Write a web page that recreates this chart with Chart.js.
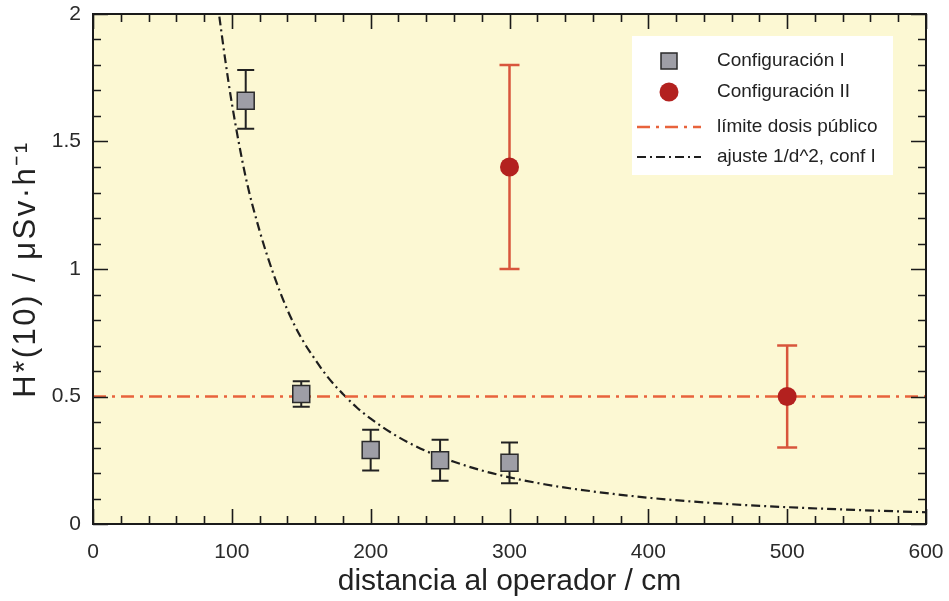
<!DOCTYPE html>
<html>
<head>
<meta charset="utf-8">
<script src="https://cdn.jsdelivr.net/npm/chart.js@4"></script>
<style>
html,body{margin:0;padding:0;background:#fff;}
#c{display:block;}
</style>
</head>
<body>
<canvas id="c" width="949" height="601"></canvas>
<script>
// ---- data ----
const DIST_I = [110, 150, 200, 250, 300];
const H_I    = [1.66, 0.51, 0.29, 0.25, 0.24];
const LO_I   = [1.55, 0.46, 0.21, 0.17, 0.16];
const HI_I   = [1.78, 0.56, 0.37, 0.33, 0.32];

const DIST_II = [300, 500];
const H_II    = [1.40, 0.50];
const LO_II   = [1.00, 0.30];
const HI_II   = [1.80, 0.70];

const LIMIT_X = [0, 600];
const LIMIT_Y = [0.5, 0.5];

const FIT_X = [91, 95, 100, 110, 120, 130, 140, 150, 160, 170, 180, 190, 200, 220, 240, 260, 280, 300, 325, 350, 400, 450, 500, 550, 600];
const FIT_Y = [1.99, 1.83, 1.65, 1.36, 1.15, 0.98, 0.84, 0.73, 0.645, 0.57, 0.51, 0.457, 0.413, 0.341, 0.286, 0.244, 0.21, 0.183, 0.156, 0.135, 0.103, 0.081, 0.066, 0.055, 0.046];

const X_TICKS = [0, 100, 200, 300, 400, 500, 600];
const Y_TICKS = [0, 0.5, 1, 1.5, 2];
const X_MINOR = 20;
const Y_MINOR = 0.1;

const LABELS = ['Configuración I', 'Configuración II', 'límite dosis público', 'ajuste 1/d^2, conf I'];
const X_TITLE = 'distancia al operador / cm';
const Y_TITLE = 'H*(10) / μSv·h⁻¹';

const FONT = "'Liberation Sans', Arial, Helvetica, sans-serif";
const COL_SQ = '#9e9ea6';
const COL_SQ_EDGE = '#2a2a2a';
const COL_C2 = '#b3211f';
const COL_C2_ERR = '#d8553c';
const COL_LIMIT = '#e8633c';
const COL_FIT = '#1e1e1e';
const BG_PLOT = '#fcf8d3';

const pts = (xs, ys) => xs.map((x, i) => ({x: x, y: ys[i]}));
const noPad = s => { s.paddingTop = 0; s.paddingBottom = 0; s.paddingLeft = 0; s.paddingRight = 0; };

const framePlugin = {
  id: 'frame',
  beforeDraw(chart) {
    const {ctx, chartArea: a} = chart;
    ctx.save();
    ctx.fillStyle = BG_PLOT;
    ctx.fillRect(a.left, a.top, a.right - a.left, a.bottom - a.top);
    ctx.restore();
  },
  beforeDatasetsDraw(chart) {
    const {ctx, scales: {x, y}} = chart;
    ctx.save();
    const bars = (xs, lo, hi, color, w, cap) => {
      ctx.strokeStyle = color;
      ctx.lineWidth = w;
      xs.forEach((d, i) => {
        const px = x.getPixelForValue(d);
        const y1 = y.getPixelForValue(lo[i]);
        const y2 = y.getPixelForValue(hi[i]);
        ctx.beginPath();
        ctx.moveTo(px, y1); ctx.lineTo(px, y2);
        ctx.moveTo(px - cap, y1); ctx.lineTo(px + cap, y1);
        ctx.moveTo(px - cap, y2); ctx.lineTo(px + cap, y2);
        ctx.stroke();
      });
    };
    bars(DIST_I, LO_I, HI_I, '#222', 2, 8.5);
    bars(DIST_II, LO_II, HI_II, COL_C2_ERR, 2.5, 10);
    ctx.restore();
  },
  afterDraw(chart) {
    const {ctx, chartArea: a, scales: {x, y}} = chart;
    ctx.save();
    // ticks on all four sides, pointing inward
    ctx.strokeStyle = '#1a1a1a';
    ctx.lineWidth = 1.6;
    ctx.beginPath();
    for (let v = x.min; v <= x.max + 1e-9; v += X_MINOR) {
      const major = Math.abs(v / 100 - Math.round(v / 100)) < 1e-6;
      const len = major ? 15 : 8;
      const px = Math.round(x.getPixelForValue(v)) + 0.5;
      ctx.moveTo(px, a.bottom); ctx.lineTo(px, a.bottom - len);
      ctx.moveTo(px, a.top); ctx.lineTo(px, a.top + len);
    }
    for (let v = y.min; v <= y.max + 1e-9; v += Y_MINOR) {
      const major = Math.abs(v / 0.5 - Math.round(v / 0.5)) < 1e-6;
      const len = major ? 15 : 8;
      const py = Math.round(y.getPixelForValue(v)) + 0.5;
      ctx.moveTo(a.left, py); ctx.lineTo(a.left + len, py);
      ctx.moveTo(a.right, py); ctx.lineTo(a.right - len, py);
    }
    ctx.stroke();
    // frame
    ctx.lineWidth = 2;
    ctx.strokeStyle = '#1a1a1a';
    ctx.strokeRect(a.left, a.top, a.right - a.left, a.bottom - a.top);

    // y axis title (letter-spaced like the reference)
    ctx.save();
    ctx.translate(26, (a.top + a.bottom) / 2);
    ctx.rotate(-Math.PI / 2);
    ctx.fillStyle = '#222';
    ctx.font = '31px ' + FONT;
    if ('letterSpacing' in ctx) ctx.letterSpacing = '2.5px';
    ctx.textAlign = 'center';
    ctx.textBaseline = 'middle';
    ctx.fillText(Y_TITLE, 0, 0);
    ctx.restore();

    // legend
    const lx = 632, ly = 36, lw = 261, lh = 139;
    ctx.fillStyle = '#ffffff';
    ctx.fillRect(lx, ly, lw, lh);
    const rows = [61, 92, 127, 157];
    const mx = 669, tx = 717;
    ctx.fillStyle = COL_SQ;
    ctx.strokeStyle = COL_SQ_EDGE;
    ctx.lineWidth = 1.5;
    ctx.fillRect(mx - 8, rows[0] - 8, 16, 16);
    ctx.strokeRect(mx - 8, rows[0] - 8, 16, 16);
    ctx.fillStyle = COL_C2;
    ctx.beginPath();
    ctx.arc(mx, rows[1], 9.5, 0, Math.PI * 2);
    ctx.fill();
    ctx.lineWidth = 2.5;
    ctx.strokeStyle = COL_LIMIT;
    ctx.setLineDash([13, 6, 3, 6]);
    ctx.beginPath(); ctx.moveTo(637, rows[2]); ctx.lineTo(701, rows[2]); ctx.stroke();
    ctx.lineWidth = 2.2;
    ctx.strokeStyle = COL_FIT;
    ctx.setLineDash([9, 4, 2, 4]);
    ctx.beginPath(); ctx.moveTo(637, rows[3]); ctx.lineTo(701, rows[3]); ctx.stroke();
    ctx.setLineDash([]);
    ctx.fillStyle = '#222';
    ctx.font = '19px ' + FONT;
    ctx.textBaseline = 'middle';
    ctx.textAlign = 'left';
    LABELS.forEach((t, i) => ctx.fillText(t, tx, rows[i]));
    ctx.restore();
  }
};

new Chart(document.getElementById('c'), {
  type: 'scatter',
  data: {
    datasets: [
      {
        label: LABELS[0],
        data: pts(DIST_I, H_I),
        pointStyle: 'rect',
        pointRadius: 12,
        pointHoverRadius: 12,
        backgroundColor: COL_SQ,
        borderColor: COL_SQ_EDGE,
        borderWidth: 1.5,
        showLine: false
      },
      {
        label: LABELS[1],
        data: pts(DIST_II, H_II),
        pointStyle: 'circle',
        pointRadius: 9.5,
        pointHoverRadius: 9.5,
        backgroundColor: COL_C2,
        borderColor: COL_C2,
        borderWidth: 0,
        showLine: false
      },
      {
        label: LABELS[2],
        type: 'line',
        data: pts(LIMIT_X, LIMIT_Y),
        borderColor: COL_LIMIT,
        borderWidth: 2.5,
        borderDash: [13, 6, 3, 6],
        pointRadius: 0,
        fill: false
      },
      {
        label: LABELS[3],
        type: 'line',
        data: pts(FIT_X, FIT_Y),
        borderColor: COL_FIT,
        borderWidth: 2.2,
        borderDash: [9, 4, 2, 4],
        pointRadius: 0,
        fill: false,
        cubicInterpolationMode: 'monotone'
      }
    ]
  },
  options: {
    responsive: false,
    animation: false,
    events: [],
    layout: {padding: {top: 14, right: 23, left: 0, bottom: 0}, autoPadding: false},
    plugins: {legend: {display: false}, tooltip: {enabled: false}},
    scales: {
      x: {
        type: 'linear',
        min: 0, max: 600,
        afterBuildTicks: s => { s.ticks = X_TICKS.map(v => ({value: v})); },
        afterFit: s => { s.height = 77; noPad(s); },
        grid: {display: false, drawTicks: false},
        border: {display: false},
        ticks: {font: {size: 21, family: FONT}, color: '#2a2a2a', padding: 16, maxRotation: 0, autoSkip: false, callback: v => String(v)},
        title: {display: true, text: X_TITLE, font: {size: 30, family: FONT}, color: '#222', padding: {top: 0, bottom: 1}}
      },
      y: {
        type: 'linear',
        min: 0, max: 2,
        afterBuildTicks: s => { s.ticks = Y_TICKS.map(v => ({value: v})); },
        afterFit: s => { s.width = 93; noPad(s); },
        grid: {display: false, drawTicks: false},
        border: {display: false},
        ticks: {font: {size: 21, family: FONT}, color: '#2a2a2a', padding: 12, autoSkip: false, callback: v => String(v)},
        title: {display: false}
      }
    }
  },
  plugins: [framePlugin]
});
</script>
</body>
</html>
